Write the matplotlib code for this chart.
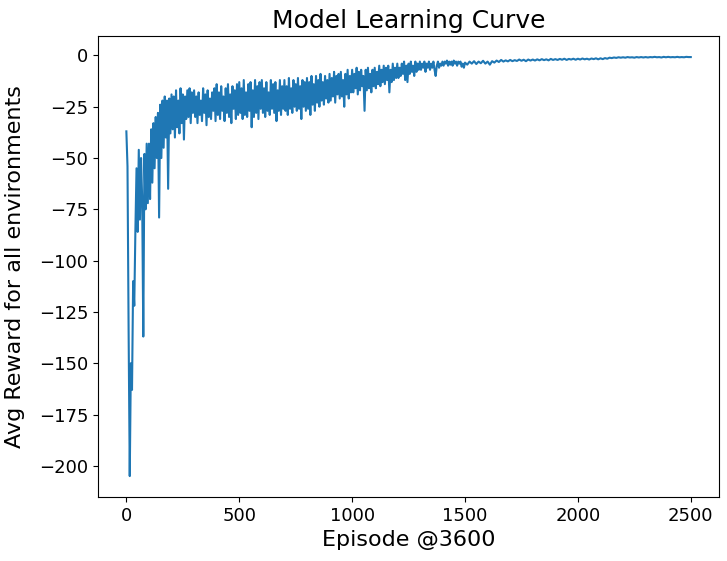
import numpy as np
import matplotlib
matplotlib.use("Agg")
import matplotlib.pyplot as plt

# Episodes 0..295, step 5
reward_early = [
    -37, -54, -135, -205, -150, -163, -110, -122, -85, -55,
    -86, -46, -80, -50, -70, -137, -48, -75, -43, -72,
    -43, -70, -36, -62, -33, -55, -30, -50, -28, -79,
    -24, -50, -22, -45, -20, -40, -22, -65, -21, -38,
    -19, -36, -20, -40, -17, -35, -22, -38, -16, -33,
    -19, -41, -20, -31, -17, -30, -16, -33, -18, -28,
]

# Episodes 300..1495, step 5
reward_mid = [
    -17, -30, -20, -33, -18, -29, -22, -32, -16, -28, -19, -34, -17, -30, -21, -31, -18, -27, -16, -32,
    -14, -29, -18, -31, -15, -27, -20, -32, -16, -28, -14, -30, -19, -33, -15, -26, -17, -31, -14, -29,
    -13, -28, -16, -31, -12, -29, -18, -30, -14, -27, -13, -35, -17, -30, -12, -28, -15, -31, -13, -26,
    -12, -28, -16, -30, -13, -27, -18, -29, -12, -26, -14, -28, -13, -32, -17, -27, -12, -29, -15, -26,
    -12, -27, -15, -29, -11, -26, -16, -28, -12, -25, -14, -27, -11, -26, -15, -31, -12, -25, -13, -27,
    -11, -26, -13, -29, -10, -24, -14, -27, -10, -23, -12, -25, -9, -22, -13, -24, -10, -21, -12, -23,
    -9, -22, -11, -20, -8, -23, -10, -19, -9, -21, -8, -20, -12, -25, -9, -19, -7, -21, -10, -18,
    -7, -18, -9, -16, -6, -19, -8, -17, -7, -15, -10, -27, -7, -17, -6, -16, -9, -18, -7, -15,
    -6, -16, -8, -14, -5, -15, -7, -13, -5, -14, -6, -12, -5, -18, -7, -13, -4, -12, -6, -11,
    -4, -11, -6, -10, -4, -9, -3, -12, -5, -13, -4, -9, -3, -8, -5, -10, -3, -8, -4, -7,
    -3, -7, -4, -6, -3, -8, -4, -6, -3, -7, -4, -6, -3, -7, -10, -5, -3, -6, -4, -5,
    -3, -5, -3, -4, -2.5, -5, -3, -4.5, -3, -5, -2.5, -4, -3, -5, -3, -4, -3, -5.5, -4, -6,
]

# Episodes 1500..2500, step 10
reward_late = [
    -3.5, -4.5, -3, -4, -2.8, -4.2, -3, -3.8, -2.6, -4,
    -3, -4.5, -2.8, -3.5, -2.5, -3.2, -2.2, -3, -2.4, -2.9,
    -2.2, -2.8, -2.3, -2.7, -2, -2.6, -2.1, -2.8, -2, -2.5,
    -2, -2.5, -1.9, -2.4, -1.8, -2.3, -1.9, -2.4, -1.7, -2.2,
    -1.8, -2.2, -1.7, -2.1, -1.6, -2.2, -1.7, -2, -1.6, -2.1,
    -1.6, -2, -1.5, -1.9, -1.6, -2, -1.5, -1.8, -1.4, -1.9,
    -1.4, -1.8, -1.3, -1.6, -1.1, -1.3, -1, -1.2, -0.9, -1.1,
    -0.9, -1.1, -0.8, -1.0, -0.9, -1.1, -0.8, -1.0, -0.8, -1.0,
    -0.8, -1.0, -0.8, -0.9, -0.7, -0.9, -0.8, -1.0, -0.7, -0.9,
    -0.7, -0.9, -0.8, -0.9, -0.7, -0.9, -0.8, -0.9, -0.7, -0.8, -0.8,
]

ep_early = np.arange(0, 300, 5)
ep_mid = np.arange(300, 1500, 5)
ep_late = np.arange(1500, 2501, 10)

episodes = np.concatenate([ep_early, ep_mid, ep_late])
rewards = np.concatenate([reward_early, reward_mid, reward_late])

fig = plt.figure(figsize=(7.27, 5.61), dpi=100)
ax = fig.add_axes([0.135, 0.114, 0.854, 0.822])
ax.plot(episodes, rewards, color="#1f77b4", linewidth=1.5)
ax.set_title("Model Learning Curve", fontsize=18)
ax.set_xlabel("Episode @3600", fontsize=16)
ax.set_ylabel("Avg Reward for all environments", fontsize=16, labelpad=10)
ax.tick_params(labelsize=13)
fig.savefig("out.png", dpi=100)
